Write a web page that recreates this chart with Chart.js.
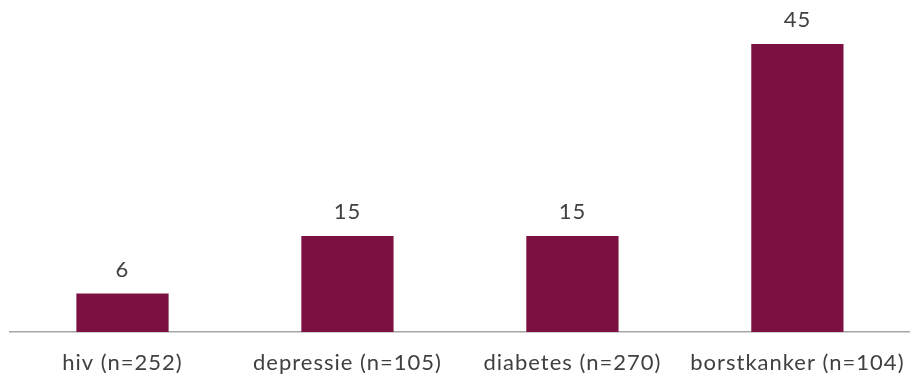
<!DOCTYPE html>
<html>
<head>
<meta charset="utf-8">
<script src="https://cdn.jsdelivr.net/npm/chart.js@4/dist/chart.umd.min.js"></script>
<style>
  html, body { margin: 0; padding: 0; background: #fff; }
  #wrap { width: 913px; height: 383px; position: relative; }
</style>
</head>
<body>
<div id="wrap"><canvas id="barChart"></canvas></div>
<script>
// Chart data
const categories = ['hiv (n=252)', 'depressie (n=105)', 'diabetes (n=270)', 'borstkanker (n=104)'];
const values = [6, 15, 15, 45];

// Slightly wider text spacing, closer to the original look
const spacing = {
    id: 'spacing',
    beforeDraw(chart) {
        chart.ctx.letterSpacing = '1px';
    }
};

// Draw the value above each bar
const valueLabels = {
    id: 'valueLabels',
    afterDatasetsDraw(chart) {
        const c = chart.ctx;
        const meta = chart.getDatasetMeta(0);
        c.save();
        c.font = '22px Lato';
        c.fillStyle = '#404040';
        c.textAlign = 'center';
        c.textBaseline = 'alphabetic';
        meta.data.forEach((bar, i) => {
            c.fillText(String(values[i]), bar.x, bar.y - 17);
        });
        c.restore();
    }
};

const ctx = document.getElementById('barChart').getContext('2d');
const barChart = new Chart(ctx, {
    type: 'bar',
    data: {
        labels: categories,
        datasets: [{
            data: values,
            backgroundColor: '#7b1041',
            barPercentage: 1,
            categoryPercentage: 0.41
        }]
    },
    options: {
        responsive: true,
        maintainAspectRatio: false,
        animation: false,
        layout: { autoPadding: false, padding: { left: 10, right: -4, top: 12, bottom: 0 } },
        scales: {
            x: {
                grid: { display: false, drawTicks: false },
                border: { color: '#a6a6a6', width: 1.5 },
                ticks: { color: '#404040', font: { family: 'Lato', size: 22 }, padding: 18, maxRotation: 0, autoSkip: false },
                afterFit(scale) {
                    scale.height = 51; // keep the baseline where the original has it
                }
            },
            y: {
                display: false,
                min: 0,
                max: 50
            }
        },
        plugins: {
            legend: { display: false },
            tooltip: { enabled: false }
        }
    },
    plugins: [spacing, valueLabels]
});
</script>
</body>
</html>
